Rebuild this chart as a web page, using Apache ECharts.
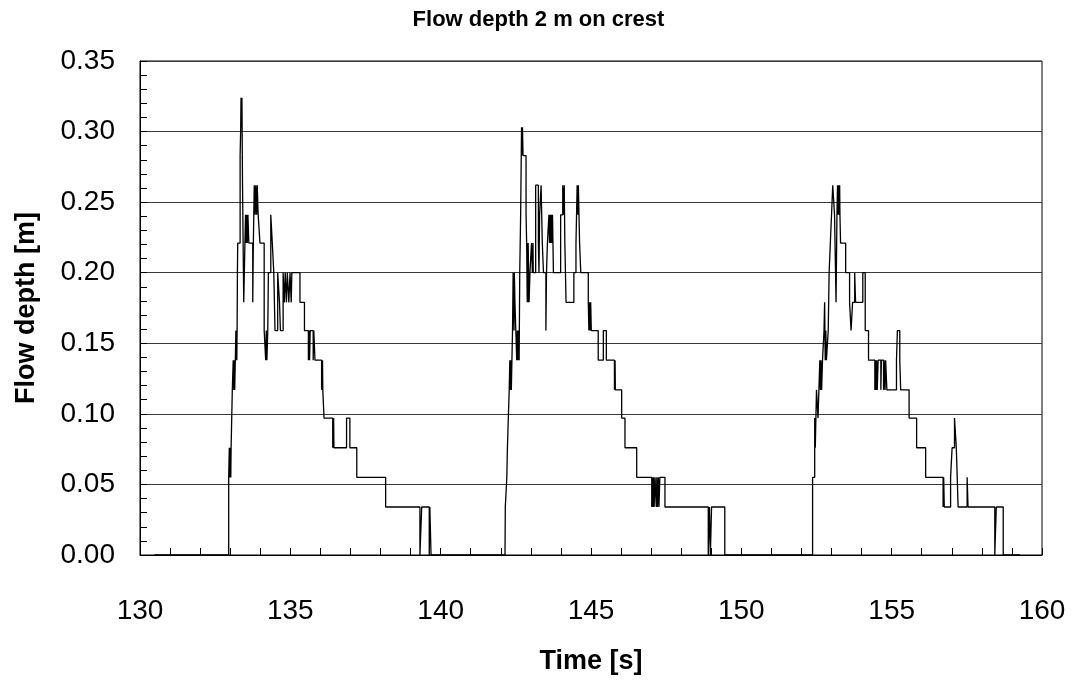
<!DOCTYPE html>
<html>
<head>
<meta charset="utf-8">
<script src="https://cdn.jsdelivr.net/npm/echarts@6/dist/echarts.min.js"></script>
<style>
html,body{margin:0;padding:0;background:#fff;}
#chart{width:1077px;height:680px;}
</style>
</head>
<body>
<div id="chart"></div>
<script>
// Time [s], flow depth [m] — sample-and-hold readings (value holds until next point)
const wave1 = [
  [130.48, 0], [132.95, 0.055], [132.97, 0.076], [132.99, 0.055], [133.00, 0.076], [133.02, 0.055], [133.03, 0.076],
  [133.07, 0.117], [133.10, 0.138], [133.12, 0.117], [133.14, 0.138], [133.15, 0.117], [133.17, 0.138],
  [133.19, 0.159], [133.20, 0.138], [133.21, 0.159], [133.22, 0.138], [133.23, 0.159], [133.24, 0.200], [133.25, 0.221],
  [133.33, 0.283], [133.35, 0.303], [133.36, 0.324], [133.38, 0.303], [133.39, 0.324], [133.41, 0.262],
  [133.45, 0.179], [133.49, 0.221], [133.51, 0.241], [133.53, 0.221], [133.55, 0.241], [133.57, 0.221], [133.59, 0.241],
  [133.62, 0.221], [133.75, 0.179], [133.77, 0.221], [133.80, 0.262], [133.83, 0.241], [133.85, 0.262], [133.88, 0.241],
  [133.90, 0.262], [133.93, 0.241], [133.99, 0.221], [134.13, 0.159], [134.18, 0.138], [134.20, 0.159], [134.22, 0.138],
  [134.25, 0.159], [134.27, 0.200], [134.35, 0.241], [134.40, 0.221], [134.45, 0.200], [134.49, 0.159], [134.58, 0.200],
  [134.64, 0.179], [134.67, 0.159], [134.76, 0.200], [134.80, 0.179], [134.83, 0.200], [134.87, 0.179], [134.90, 0.200],
  [134.95, 0.179], [134.99, 0.200], [135.03, 0.179], [135.05, 0.200], [135.32, 0.179], [135.47, 0.159], [135.60, 0.138],
  [135.62, 0.159], [135.64, 0.138], [135.66, 0.159], [135.76, 0.138], [135.78, 0.159], [135.82, 0.138], [136.04, 0.117],
  [136.07, 0.138], [136.08, 0.117], [136.12, 0.097], [136.41, 0.076], [136.44, 0.097], [136.45, 0.076], [136.87, 0.097],
  [136.98, 0.076], [137.21, 0.055], [138.17, 0.034], [139.31, 0], [139.37, 0.034], [139.62, 0], [139.64, 0.034], [139.68, 0]
];
const wave2 = [
  [142.15, 0.034], [142.20, 0.055], [142.22, 0.076], [142.25, 0.097], [142.28, 0.117], [142.30, 0.138], [142.31, 0.117],
  [142.33, 0.138], [142.35, 0.117], [142.37, 0.138], [142.39, 0.159], [142.41, 0.200], [142.44, 0.159], [142.45, 0.200],
  [142.47, 0.179], [142.50, 0.159], [142.53, 0.138], [142.55, 0.159], [142.57, 0.138], [142.59, 0.159], [142.61, 0.138],
  [142.63, 0.200], [142.66, 0.241], [142.69, 0.303], [142.71, 0.283], [142.72, 0.303], [142.74, 0.283], [142.84, 0.241],
  [142.86, 0.221], [142.88, 0.179], [142.89, 0.221], [142.90, 0.179], [142.91, 0.221], [142.94, 0.179], [142.97, 0.200],
  [143.02, 0.221], [143.05, 0.200], [143.07, 0.221], [143.08, 0.200], [143.16, 0.262], [143.25, 0.221], [143.27, 0.200],
  [143.29, 0.241], [143.34, 0.262], [143.38, 0.221], [143.42, 0.200], [143.50, 0.159], [143.52, 0.200], [143.55, 0.221],
  [143.60, 0.241], [143.62, 0.221], [143.64, 0.241], [143.66, 0.221], [143.68, 0.241], [143.70, 0.221], [143.72, 0.241],
  [143.75, 0.200], [143.99, 0.241], [144.06, 0.262], [144.09, 0.241], [144.11, 0.262], [144.13, 0.221], [144.17, 0.179],
  [144.43, 0.200], [144.50, 0.221], [144.54, 0.262], [144.56, 0.241], [144.58, 0.262], [144.62, 0.221], [144.66, 0.200],
  [144.91, 0.179], [144.93, 0.159], [144.95, 0.179], [144.97, 0.159], [144.99, 0.179], [145.01, 0.159], [145.24, 0.138],
  [145.41, 0.159], [145.51, 0.138], [145.78, 0.117], [145.80, 0.138], [145.81, 0.117], [146.02, 0.097], [146.13, 0.076],
  [146.52, 0.055], [147.02, 0.034], [147.04, 0.055], [147.06, 0.034], [147.08, 0.055], [147.10, 0.034], [147.13, 0.055],
  [147.17, 0.034], [147.19, 0.055], [147.21, 0.034], [147.24, 0.055], [147.26, 0.034], [147.29, 0.055], [147.46, 0.034],
  [148.90, 0], [148.94, 0.034], [148.97, 0], [149.01, 0.034], [149.45, 0]
];
const wave3 = [
  [152.37, 0.055], [152.44, 0.097], [152.46, 0.076], [152.48, 0.097], [152.50, 0.117], [152.55, 0.097], [152.58, 0.117],
  [152.61, 0.138], [152.63, 0.117], [152.65, 0.138], [152.67, 0.117], [152.70, 0.138], [152.75, 0.159], [152.77, 0.179],
  [152.79, 0.138], [152.81, 0.159], [152.83, 0.138], [152.89, 0.159], [152.92, 0.200], [152.96, 0.221], [153.00, 0.241],
  [153.04, 0.262], [153.10, 0.241], [153.15, 0.179], [153.18, 0.241], [153.20, 0.262], [153.21, 0.241], [153.23, 0.262],
  [153.25, 0.241], [153.27, 0.262], [153.28, 0.241], [153.30, 0.221], [153.47, 0.200], [153.60, 0.179], [153.65, 0.159],
  [153.70, 0.179], [153.77, 0.200], [153.80, 0.179], [154.04, 0.200], [154.12, 0.159], [154.23, 0.138], [154.44, 0.117],
  [154.46, 0.138], [154.48, 0.117], [154.50, 0.138], [154.52, 0.117], [154.55, 0.138], [154.64, 0.117], [154.66, 0.138],
  [154.73, 0.117], [154.75, 0.138], [154.78, 0.117], [154.80, 0.138], [154.84, 0.117], [155.16, 0.138], [155.19, 0.159],
  [155.27, 0.138], [155.30, 0.117], [155.58, 0.097], [155.83, 0.076], [156.13, 0.055], [156.71, 0.034], [156.73, 0.055],
  [156.75, 0.034], [156.96, 0.055], [157.01, 0.076], [157.09, 0.097], [157.15, 0.076], [157.18, 0.055], [157.21, 0.034],
  [157.51, 0.055], [157.54, 0.034], [158.43, 0], [158.48, 0.034], [158.71, 0], [159.27, 0]
];
const yTicks = { min: 0, max: 0.35, step: 0.05 };
const xTicks = { min: 130, max: 160, step: 5 };

const series = wave1.concat([[142.14, 0]], wave2, wave3);
const FONT = 'Liberation Sans, Arial, Helvetica, sans-serif';

const chart = echarts.init(document.getElementById('chart'), null, { renderer: 'canvas' });
chart.setOption({
  animation: false,
  backgroundColor: '#ffffff',
  title: {
    text: 'Flow depth 2 m on crest',
    left: 'center',
    top: 4,
    textStyle: { fontFamily: FONT, fontSize: 22, fontWeight: 'bold', color: '#000' }
  },
  grid: {
    left: 140, right: 35, top: 61, bottom: 124,
    show: true, borderColor: '#000', borderWidth: 1
  },
  xAxis: {
    type: 'value',
    min: xTicks.min, max: xTicks.max, interval: xTicks.step,
    name: 'Time [s]',
    nameLocation: 'middle',
    nameGap: 93,
    nameTextStyle: { fontFamily: FONT, fontSize: 27, fontWeight: 'bold', color: '#000' },
    axisLine: { lineStyle: { color: '#000', width: 1 } },
    axisTick: { inside: true, length: 7, lineStyle: { color: '#000' } },
    minorTick: { show: true, splitNumber: 5, length: 7, lineStyle: { color: '#000' } },
    axisLabel: { fontFamily: FONT, fontSize: 28, color: '#000', margin: 42 },
    splitLine: { show: false }
  },
  yAxis: {
    type: 'value',
    min: yTicks.min, max: yTicks.max, interval: yTicks.step,
    name: 'Flow depth [m]',
    nameLocation: 'middle',
    nameGap: 100,
    nameTextStyle: { fontFamily: FONT, fontSize: 27, fontWeight: 'bold', color: '#000' },
    axisLine: { show: true, lineStyle: { color: '#000', width: 1 } },
    axisTick: { show: true, inside: true, length: 7, lineStyle: { color: '#000' } },
    minorTick: { show: true, splitNumber: 5, length: 7, lineStyle: { color: '#000' } },
    axisLabel: { fontFamily: FONT, fontSize: 28, color: '#000', margin: 25,
      formatter: v => v.toFixed(2) },
    splitLine: { show: true, lineStyle: { color: '#3a3a3a', width: 1 } }
  },
  series: [{
    type: 'line',
    data: series,
    step: 'end',
    showSymbol: false,
    symbol: 'none',
    lineStyle: { color: '#000', width: 1.3 },
    z: 3
  }]
});
</script>
</body>
</html>
